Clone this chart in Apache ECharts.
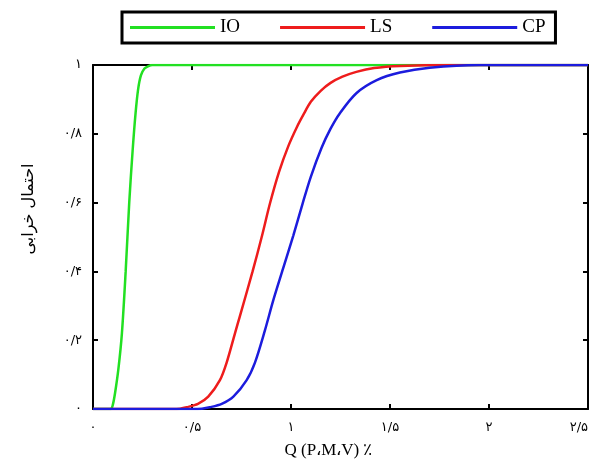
<!DOCTYPE html>
<html>
<head>
<meta charset="utf-8">
<script src="https://cdn.jsdelivr.net/npm/echarts@6/dist/echarts.min.js"></script>
<style>
  html, body { margin: 0; padding: 0; background: #fff; }
  #main { width: 593px; height: 467px; }
</style>
</head>
<body>
<div id="main"></div>
<script>
// tick labels (Persian digits)
var xTickLabels = ['۰', '۰/۵', '۱', '۱/۵', '۲', '۲/۵'];
var yTickLabels = ['۰', '۰/۲', '۰/۴', '۰/۶', '۰/۸', '۱'];

// IO
var ioX = [0, 0.05, 0.09, 0.10, 0.111, 0.128, 0.146, 0.165, 0.183, 0.2, 0.215, 0.228, 0.242, 0.26, 0.28, 0.30, 0.35, 0.5, 1.0, 1.5, 2.0, 2.5];
var ioY = [0, 0, 0, 0.012, 0.045, 0.115, 0.22, 0.4, 0.6, 0.75, 0.86, 0.93, 0.97, 0.99, 0.997, 1, 1, 1, 1, 1, 1, 1];

// LS
var lsX = [0, 0.2, 0.4, 0.44, 0.473, 0.53, 0.582, 0.641, 0.675, 0.717, 0.742, 0.806, 0.852, 0.894, 0.94, 0.987, 1.03, 1.062, 1.1, 1.15, 1.2, 1.26, 1.33, 1.42, 1.55, 1.8, 2.1, 2.5];
var lsY = [0, 0, 0, 0.001, 0.005, 0.015, 0.036, 0.084, 0.135, 0.22, 0.27, 0.40, 0.50, 0.598, 0.69, 0.765, 0.82, 0.855, 0.893, 0.925, 0.948, 0.966, 0.98, 0.991, 0.997, 1, 1, 1];

// CP
var cpX = [0, 0.25, 0.5, 0.55, 0.59, 0.65, 0.709, 0.776, 0.818, 0.869, 0.91, 0.961, 1.012, 1.059, 1.1, 1.155, 1.2, 1.247, 1.33, 1.433, 1.55, 1.7, 1.95, 2.2, 2.5];
var cpY = [0, 0, 0, 0.001, 0.005, 0.015, 0.036, 0.084, 0.135, 0.23, 0.315, 0.41, 0.505, 0.598, 0.675, 0.76, 0.815, 0.86, 0.918, 0.956, 0.978, 0.992, 1, 1, 1];

function pairs(xs, ys) {
  return xs.map(function (x, i) { return [x, ys[i]]; });
}

var chart = echarts.init(document.getElementById('main'));

var axisLine = { show: true, onZero: false, lineStyle: { color: '#000', width: 2 } };
var axisTick = { show: true, inside: true, length: 5, lineStyle: { color: '#000', width: 2 } };
var persianFont = '"DejaVu Sans", sans-serif';
var serifFont = '"Liberation Serif", "DejaVu Serif", serif';

function line(name, color, xs, ys) {
  return {
    name: name,
    type: 'line',
    data: pairs(xs, ys),
    symbol: 'none',
    smooth: 0.3,
    lineStyle: { color: color, width: 2.5 },
    itemStyle: { color: color }
  };
}

var option = {
  animation: false,
  backgroundColor: '#fff',
  legend: {
    left: 122,
    top: 12,
    padding: [6, 10, 6, 8],
    borderColor: '#000',
    borderWidth: 3,
    icon: 'rect',
    itemWidth: 85,
    itemHeight: 3,
    itemGap: 40,
    textStyle: { fontFamily: serifFont, fontSize: 19, color: '#000', lineHeight: 19 },
    data: ['IO', 'LS', 'CP']
  },
  grid: { left: 93, right: 5, top: 65, bottom: 58, outerBoundsMode: 'none' },
  xAxis: [{
    type: 'value',
    min: 0,
    max: 2.5,
    interval: 0.5,
    name: 'Q (P،M،V) ٪',
    nameLocation: 'middle',
    nameGap: 33,
    nameTextStyle: { fontFamily: serifFont, fontSize: 17, color: '#000', padding: [0, 24, 0, 0] },
    axisLine: axisLine,
    axisTick: axisTick,
    splitLine: { show: false },
    axisLabel: {
      margin: 12,
      fontFamily: persianFont,
      fontSize: 13,
      color: '#000',
      alignMaxLabel: 'right',
      formatter: function (v) { return xTickLabels[Math.round(v / 0.5)]; }
    }
  }, {
    type: 'value',
    position: 'top',
    min: 0,
    max: 2.5,
    interval: 0.5,
    axisLine: axisLine,
    axisTick: axisTick,
    axisLabel: { show: false },
    splitLine: { show: false }
  }],
  yAxis: [{
    type: 'value',
    min: 0,
    max: 1,
    interval: 0.2,
    name: 'احتمال خرابی',
    nameLocation: 'middle',
    nameRotate: 90,
    nameGap: 56,
    nameTextStyle: { fontFamily: persianFont, fontSize: 16, color: '#000', padding: [0, 0, 0, 56] },
    axisLine: axisLine,
    axisTick: axisTick,
    splitLine: { show: false },
    axisLabel: {
      margin: 11,
      fontFamily: persianFont,
      fontSize: 13,
      color: '#000',
      formatter: function (v) { return yTickLabels[Math.round(v / 0.2)]; }
    }
  }, {
    type: 'value',
    position: 'right',
    min: 0,
    max: 1,
    interval: 0.2,
    axisLine: axisLine,
    axisTick: axisTick,
    axisLabel: { show: false },
    splitLine: { show: false }
  }],
  series: [
    line('IO', '#22e022', ioX, ioY),
    line('LS', '#ee1c1c', lsX, lsY),
    line('CP', '#1c1cdd', cpX, cpY)
  ]
};

chart.setOption(option);
</script>
</body>
</html>
